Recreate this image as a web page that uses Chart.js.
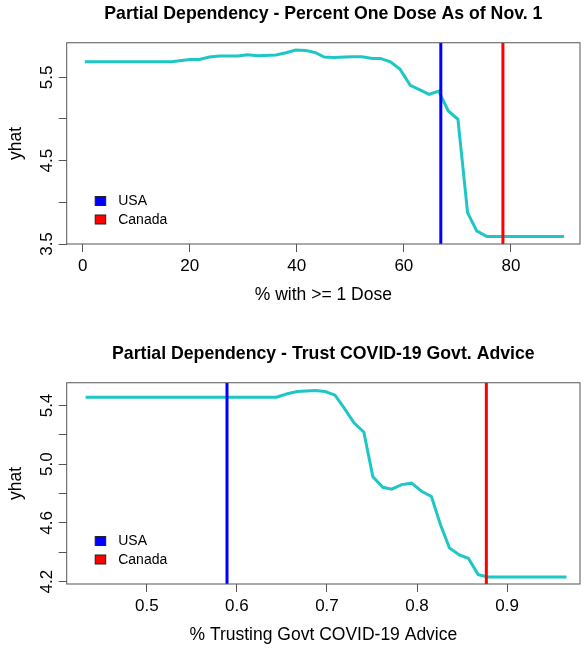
<!DOCTYPE html>
<html>
<head>
<meta charset="utf-8">
<script src="https://cdn.jsdelivr.net/npm/chart.js@4.4.0/dist/chart.umd.min.js"></script>
<style>
  body { margin: 0; background: #fff; }
  .panel { position: absolute; left: 0; width: 587px; height: 311px; }
</style>
</head>
<body>
<div class="panel" style="top:0"><canvas id="dose"></canvas></div>
<div class="panel" style="top:340px"><canvas id="trust"></canvas></div>
<script>
// values
const doseX = [0.4, 16.6, 20.0, 21.8, 23.7, 25.5, 29.0, 30.8, 32.7, 36.1, 38.0, 39.8, 41.7, 43.5, 45.1, 46.9,
  50.3, 52.2, 54.1, 55.6, 57.5, 59.3, 61.2, 62.8, 64.7, 66.5, 68.3, 70.1, 71.9, 73.6, 75.5, 89.9];
const doseY = [5.687, 5.687, 5.715, 5.715, 5.743, 5.755, 5.755, 5.771, 5.759, 5.767, 5.795, 5.827, 5.823, 5.795, 5.743, 5.739,
  5.747, 5.747, 5.727, 5.727, 5.687, 5.596, 5.404, 5.356, 5.296, 5.336, 5.096, 4.996, 3.877, 3.657, 3.589, 3.589];
const doseTicksX = [0, 20, 40, 60, 80];
const doseTicksY = [3.5, 4.0, 4.5, 5.0, 5.5];
const doseLabelsY = ['3.5', '', '4.5', '', '5.5'];
const doseUSA = 66.9;
const doseCanada = 78.5;

const trustX = [0.432, 0.644, 0.656, 0.667, 0.687, 0.698, 0.709, 0.719, 0.730, 0.741, 0.751, 0.762,
  0.772, 0.783, 0.794, 0.805, 0.816, 0.826, 0.836, 0.847, 0.857, 0.868, 0.879, 0.966];
const trustY = [5.457, 5.457, 5.480, 5.495, 5.502, 5.495, 5.470, 5.384, 5.282, 5.218, 4.914, 4.843,
  4.830, 4.861, 4.871, 4.816, 4.780, 4.589, 4.430, 4.382, 4.359, 4.248, 4.232, 4.232];
const trustTicksX = [0.5, 0.6, 0.7, 0.8, 0.9];
const trustTicksY = [4.2, 4.4, 4.6, 4.8, 5.0, 5.2, 5.4];
const trustLabelsY = ['4.2', '', '4.6', '', '5.0', '', '5.4'];
const trustUSA = 0.589;
const trustCanada = 0.877;

const legendNames = ['USA', 'Canada'];
const legendColors = ['#0000ff', '#ff0000'];

const FONT = '"Liberation Sans", Arial, Helvetica, sans-serif';
const TICK = '#555';

// box round the plot + the legend in the lower left
const boxAndLegend = {
  id: 'boxAndLegend',
  afterDraw(chart) {
    const {ctx, chartArea: a} = chart;
    ctx.save();
    ctx.strokeStyle = TICK;
    ctx.lineWidth = 1;
    ctx.strokeRect(a.left, a.top, a.right - a.left, a.bottom - a.top);
    ctx.font = '14px ' + FONT;
    ctx.textBaseline = 'middle';
    const rows = [a.bottom - 43, a.bottom - 24.5];
    legendNames.forEach((name, i) => {
      const y = rows[i];
      ctx.fillStyle = legendColors[i];
      ctx.fillRect(a.left + 28.5, y - 4.5, 10.5, 9);
      ctx.strokeStyle = '#222';
      ctx.strokeRect(a.left + 28.5, y - 4.5, 10.5, 9);
      ctx.fillStyle = '#000';
      ctx.fillText(name, a.left + 51.5, y + 0.5);
    });
    ctx.restore();
  }
};

function pdChart(id, cfg) {
  const pts = cfg.xs.map((x, i) => ({x: x, y: cfg.ys[i]}));
  const vline = (x, color) => ({
    data: [{x: x, y: cfg.ymin}, {x: x, y: cfg.ymax}],
    borderColor: color, borderWidth: 3, pointRadius: 0, showLine: true, order: 0
  });
  new Chart(document.getElementById(id), {
    type: 'scatter',
    data: {
      datasets: [
        vline(cfg.usa, '#0000ff'),
        vline(cfg.canada, '#ff0000'),
        {data: pts, borderColor: '#1fc6c6', borderWidth: 3, pointRadius: 0, showLine: true, tension: 0, order: 1}
      ]
    },
    options: {
      responsive: true,
      maintainAspectRatio: false,
      animation: false,
      layout: {padding: {left: 0, right: 7, top: 0, bottom: 5}},
      plugins: {
        legend: {display: false},
        tooltip: {enabled: false},
        title: {
          display: true, text: cfg.title, color: '#000', fullSize: false,
          font: {family: FONT, size: 17.7, weight: 'bold', lineHeight: 1.2},
          padding: {top: 3, bottom: 18.5}
        }
      },
      scales: {
        x: {
          type: 'linear', min: cfg.xmin, max: cfg.xmax,
          afterBuildTicks: s => { s.ticks = cfg.ticksX.map(v => ({value: v})); },
          afterFit: s => { s.height = 62; },
          grid: {drawOnChartArea: false, drawTicks: true, tickLength: 8, color: TICK},
          border: {display: false},
          ticks: {color: '#000', font: {family: FONT, size: 17}, padding: 4, autoSkip: false,
            maxRotation: 0, callback: v => String(v)},
          title: {display: true, text: cfg.xlabel, color: '#000',
            font: {family: FONT, size: 17.5, lineHeight: 1.2}, padding: {top: 0, bottom: 0}}
        },
        y: {
          min: cfg.ymin, max: cfg.ymax,
          afterBuildTicks: s => { s.ticks = cfg.ticksY.map(v => ({value: v})); },
          afterFit: s => { s.width = 66.7; },
          grid: {drawOnChartArea: false, drawTicks: true, tickLength: 8, color: TICK},
          border: {display: false},
          ticks: {color: '#000', font: {family: FONT, size: 17}, padding: 0, autoSkip: false,
            minRotation: 90, maxRotation: 90, crossAlign: 'center',
            callback: (v, i) => cfg.labelsY[i]},
          title: {display: true, text: 'yhat', color: '#000',
            font: {family: FONT, size: 17.5, lineHeight: 1.2}, padding: {top: 5.5, bottom: 0}}
        }
      }
    },
    plugins: [boxAndLegend]
  });
}

pdChart('dose', {
  title: 'Partial Dependency - Percent One Dose As of Nov. 1',
  xlabel: '% with >= 1 Dose',
  xs: doseX, ys: doseY, usa: doseUSA, canada: doseCanada,
  xmin: -2.98, xmax: 92.9, ymin: 3.5, ymax: 5.915,
  ticksX: doseTicksX, ticksY: doseTicksY, labelsY: doseLabelsY
});

pdChart('trust', {
  title: 'Partial Dependency - Trust COVID-19 Govt. Advice',
  xlabel: '% Trusting Govt COVID-19 Advice',
  xs: trustX, ys: trustY, usa: trustUSA, canada: trustCanada,
  xmin: 0.411, xmax: 0.981, ymin: 4.184, ymax: 5.555,
  ticksX: trustTicksX, ticksY: trustTicksY, labelsY: trustLabelsY
});
</script>
</body>
</html>
